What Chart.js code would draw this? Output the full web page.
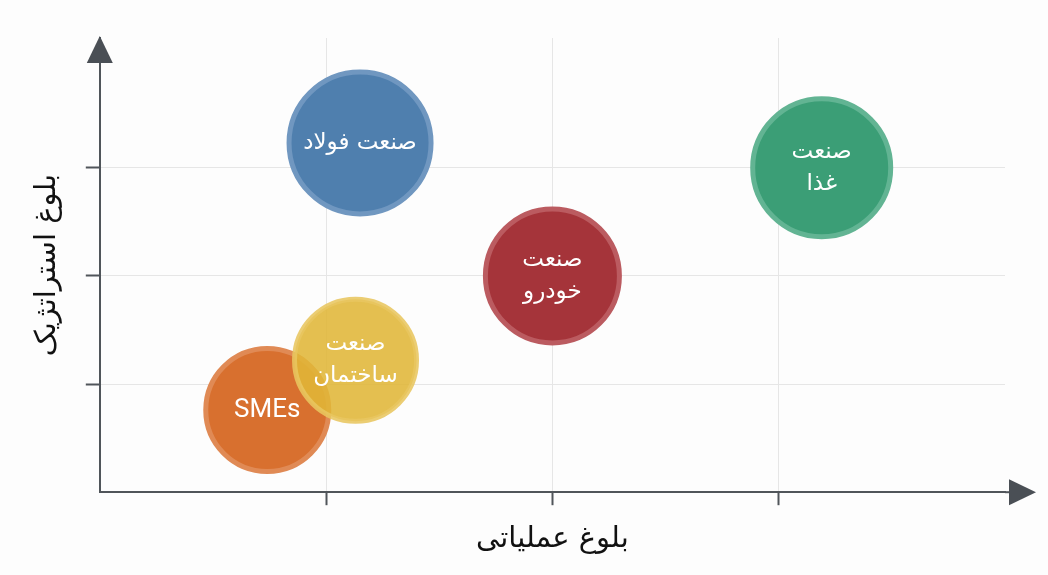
<!DOCTYPE html>
<html>
<head>
<meta charset="utf-8">
<script src="https://cdn.jsdelivr.net/npm/chart.js@4.4.0/dist/chart.umd.min.js"></script>
<style>
  html, body { margin: 0; padding: 0; background: #fdfdfd; }
  #wrap { width: 1048px; height: 575px; }
</style>
</head>
<body>
<div id="wrap"><canvas id="myChart"></canvas></div>
<script>
// data
const industries = ['صنعت فولاد', 'صنعت\nغذا', 'صنعت\nخودرو', 'SMEs', 'صنعت\nساختمان'];
const operational = [1.15, 3.19, 2.0, 0.74, 1.13];
const strategic = [3.23, 3.0, 2.0, 0.76, 1.22];
const sizes = [71, 69, 67, 61.5, 61];
const tickValues = [1, 2, 3];
const xTitle = 'بلوغ عملیاتی';
const yTitle = 'بلوغ استراتژیک';

const fillColors = ['#4f7fae', '#3b9e76', '#a5343a', '#d8702f', 'rgba(224,182,56,0.88)'];
const ringColors = ['#7097c0', '#62b493', '#bb5b60', '#e08a55', 'rgba(232,198,96,0.88)'];
const axisColor = '#50555a';

const points = industries.map(function (name, i) {
  return { x: operational[i], y: strategic[i], r: sizes[i] };
});

// white names inside each bubble
const bubbleLabels = {
  id: 'bubbleLabels',
  afterDatasetsDraw(chart) {
    const ctx = chart.ctx;
    const meta = chart.getDatasetMeta(0);
    ctx.save();
    ctx.fillStyle = '#ffffff';
    ctx.textAlign = 'center';
    ctx.textBaseline = 'middle';
    meta.data.forEach(function (pt, i) {
      const lines = industries[i].split('\n');
      ctx.font = lines[0] === 'SMEs' ? '26px Roboto, sans-serif' : '23px "DejaVu Sans", sans-serif';
      lines.forEach(function (line, j) {
        ctx.fillText(line, pt.x, pt.y + (j - (lines.length - 1) / 2) * 32);
      });
    });
    ctx.restore();
  }
};

// arrow heads at the end of both axes
const axisArrows = {
  id: 'axisArrows',
  beforeDraw(chart) {
    const ctx = chart.ctx;
    ctx.save();
    ctx.fillStyle = '#fdfdfd';
    ctx.fillRect(0, 0, chart.width, chart.height);
    ctx.restore();
  },
  afterDraw(chart) {
    const ctx = chart.ctx;
    const a = chart.chartArea;
    const x0 = chart.scales.x.left;
    const y0 = chart.scales.y.bottom;
    ctx.save();
    ctx.strokeStyle = axisColor;
    ctx.lineWidth = 2;
    ctx.beginPath();
    ctx.moveTo(a.right, y0);
    ctx.lineTo(a.right + 8, y0);
    ctx.stroke();
    ctx.fillStyle = '#4a4f55';
    ctx.beginPath();
    ctx.moveTo(x0, a.top - 2);
    ctx.lineTo(x0 - 13, a.top + 25);
    ctx.lineTo(x0 + 13, a.top + 25);
    ctx.closePath();
    ctx.fill();
    ctx.beginPath();
    ctx.moveTo(a.right + 31, y0);
    ctx.lineTo(a.right + 4, y0 - 13);
    ctx.lineTo(a.right + 4, y0 + 13);
    ctx.closePath();
    ctx.fill();
    ctx.restore();
  }
};

const ctx = document.getElementById('myChart').getContext('2d');
const myChart = new Chart(ctx, {
  type: 'bubble',
  data: {
    datasets: [{
      data: points,
      backgroundColor: fillColors,
      borderColor: ringColors,
      borderWidth: 5,
      hoverBorderWidth: 5,
      clip: false
    }]
  },
  options: {
    responsive: true,
    maintainAspectRatio: false,
    animation: false,
    events: [],
    layout: {
      autoPadding: false,
      padding: { left: 0, right: 43, top: 38, bottom: 0 }
    },
    plugins: {
      legend: { display: false },
      tooltip: { enabled: false }
    },
    scales: {
      x: {
        type: 'linear',
        min: 0,
        max: 4,
        afterBuildTicks: function (scale) {
          scale.ticks = tickValues.map(function (v) { return { value: v }; });
        },
        ticks: { display: false },
        grid: {
          color: '#e6e6e6',
          lineWidth: 1,
          tickColor: axisColor,
          tickWidth: 2,
          tickLength: 13
        },
        border: { display: true, color: axisColor, width: 2 },
        title: {
          display: true,
          text: xTitle,
          color: '#111111',
          font: { family: 'DejaVu Sans', size: 29 },
          padding: { top: 17, bottom: 18 }
        }
      },
      y: {
        type: 'linear',
        min: 0,
        max: 4.2,
        afterBuildTicks: function (scale) {
          scale.ticks = tickValues.map(function (v) { return { value: v }; });
        },
        ticks: { display: false },
        grid: {
          color: '#e6e6e6',
          lineWidth: 1,
          tickColor: axisColor,
          tickWidth: 2,
          tickLength: 14
        },
        border: { display: true, color: axisColor, width: 2 },
        title: {
          display: true,
          text: yTitle,
          color: '#111111',
          font: { family: 'DejaVu Sans', size: 29 },
          padding: { top: 30, bottom: 21 }
        }
      }
    }
  },
  plugins: [axisArrows, bubbleLabels]
});
</script>
</body>
</html>
